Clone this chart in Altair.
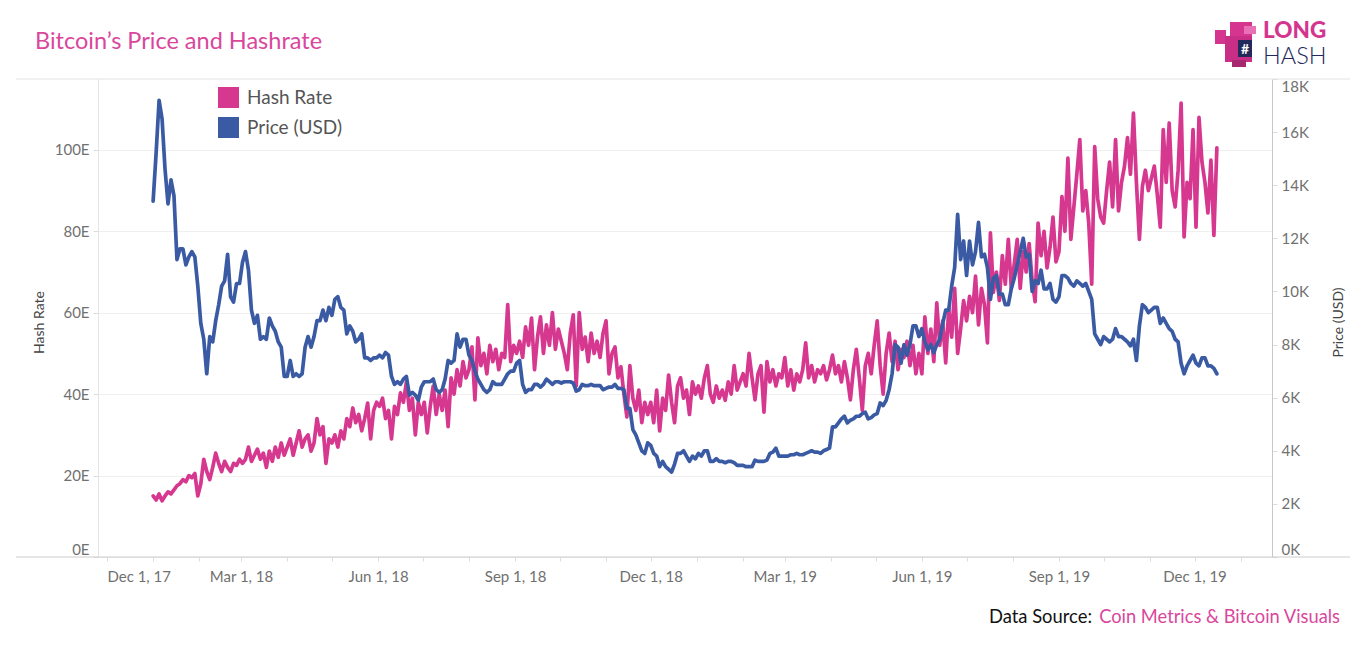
import altair as alt
import pandas as pd

# ---------------- data (2-day samples starting 2018-01-01) ----------------
hash_2018 = [
    15.0, 14.0, 15.5, 13.8, 15.0, 16.0, 15.5, 16.5, 17.5, 18.0, 19.0, 18.5, 20.0, 19.5, 20.5, 15.0,
    18.0, 24.0, 21.0, 19.0, 22.0, 25.5, 23.0, 21.0, 23.5, 22.0, 21.0, 23.0, 22.5, 24.0,
    23.0, 24.0, 27.0, 23.5, 25.0, 26.5, 24.0, 25.5, 22.0, 26.0, 23.5, 27.0, 24.5, 28.0, 25.0,
    27.0, 29.0, 25.0, 28.0, 31.0, 27.0, 29.0, 30.0, 26.0, 28.0, 34.0, 30.0, 32.0, 23.0, 29.0,
    28.0, 30.0, 27.0, 31.0, 29.0, 34.0, 32.0, 36.6, 33.0, 35.0, 31.0, 34.0, 37.8, 29.0, 36.0, 38.0,
    37.0, 39.0, 34.0, 36.0, 29.0, 37.0, 35.0, 40.3, 38.0, 43.0, 36.0, 39.0, 30.0, 38.0, 35.0,
    38.0, 30.5, 37.0, 42.0, 35.0, 40.0, 36.0, 41.0, 32.0, 44.0, 40.0, 46.0, 42.0, 48.0, 44.0,
    46.0, 51.6, 38.6, 53.8, 47.0, 50.0, 45.0, 52.0, 48.0, 51.0, 46.0, 50.0, 49.0, 62.0, 48.0, 52.0,
    50.0, 53.0, 49.0, 56.5, 52.0, 58.7, 46.0, 54.0, 59.0, 50.0, 57.0, 52.0, 60.0, 51.0, 56.0,
    53.0, 50.0, 46.0, 55.0, 59.5, 42.0, 60.0, 51.0, 54.0, 48.0, 55.0, 50.0, 53.0, 49.0, 55.0,
    58.0, 45.0, 50.0, 51.6, 44.0, 46.7, 40.0, 34.4, 47.0, 39.0, 36.0, 41.0, 33.0, 38.0, 35.0,
    38.0, 33.0, 41.0, 31.0, 39.0, 36.0, 44.7, 38.0, 33.0, 42.0, 44.0, 39.0, 41.0, 35.0, 43.0, 40.0,
]
hash_2019 = [
    42.0, 39.0, 44.0, 47.0, 40.0, 38.0, 42.0, 39.0, 41.0, 38.5, 43.0, 40.0, 47.0, 41.0, 43.0,
    45.0, 42.0, 50.0, 44.0, 38.6, 45.0, 47.0, 35.6, 48.0, 43.0, 46.0, 42.0, 45.0, 44.0,
    49.0, 42.0, 46.0, 41.0, 45.0, 43.0, 46.0, 52.6, 44.0, 47.0, 43.0, 46.0, 45.0, 47.0, 43.5, 46.0,
    49.6, 45.0, 47.0, 43.0, 48.0, 44.0, 38.6, 46.0, 51.0, 44.0, 36.0, 47.0, 50.0, 45.0, 52.0,
    58.0, 47.0, 40.0, 50.0, 55.0, 48.0, 53.0, 46.0, 51.0, 49.0, 53.0, 47.0, 52.0, 45.0, 50.0,
    45.0, 59.0, 50.0, 56.0, 48.0, 62.4, 52.0, 58.0, 47.7, 61.0, 54.0, 66.0, 50.0, 56.0, 63.0,
    58.0, 64.0, 60.0, 69.0, 57.0, 66.0, 62.0, 52.6, 79.6, 65.0, 70.0, 63.0, 74.0, 67.0, 78.0, 66.0,
    72.0, 78.0, 66.0, 75.0, 70.0, 77.0, 68.0, 62.7, 82.0, 74.0, 80.0, 71.0, 76.0, 83.5, 72.5,
    75.0, 88.5, 80.0, 98.0, 78.0, 86.0, 94.0, 102.5, 85.0, 90.0, 82.0, 67.0, 100.8, 88.0, 83.5,
    82.0, 90.0, 97.0, 86.0, 102.5, 85.0, 92.0, 96.0, 103.0, 94.0, 109.0, 92.0, 78.0, 91.0, 95.0, 90.0,
    93.0, 96.0, 89.0, 81.0, 105.0, 92.0, 106.6, 90.0, 86.0, 95.0, 111.5, 78.6, 92.0, 88.0, 105.0,
    81.0, 108.0, 97.0, 92.0, 84.5, 97.5, 79.0, 100.5,
]
# price in thousands of USD
price_2018 = [
    13.4, 15.2, 17.2, 16.5, 14.6, 13.3, 14.2, 13.6, 11.2, 11.6, 11.6, 11.0, 11.3, 11.5, 11.3, 10.2,
    8.8, 8.2, 6.9, 8.3, 8.1, 8.9, 9.5, 10.2, 10.4, 11.4, 9.8, 9.6, 10.3, 10.3,
    11.1, 11.5, 10.8, 9.3, 8.8, 9.1, 8.2, 8.3, 8.2, 9.0, 8.7, 8.5, 8.1, 7.9, 6.8,
    6.8, 7.4, 6.8, 6.9, 6.8, 6.9, 7.9, 8.3, 7.9, 8.3, 8.9, 8.9, 9.3, 8.9, 9.4,
    9.1, 9.7, 9.8, 9.4, 9.3, 8.4, 8.7, 8.5, 8.1, 8.2, 8.4, 7.5, 7.5, 7.4, 7.5, 7.5,
    7.6, 7.5, 7.7, 7.6, 6.8, 6.5, 6.6, 6.5, 6.7, 6.8, 6.1, 6.2, 6.1, 5.9, 6.4,
    6.6, 6.6, 6.6, 6.7, 6.3, 6.2, 6.3, 6.7, 7.4, 7.3, 7.4, 8.4, 7.9, 8.2, 8.2,
    7.6, 7.4, 7.0, 6.7, 6.5, 6.3, 6.2, 6.3, 6.6, 6.5, 6.5, 6.5, 6.7, 6.9, 7.0, 7.0,
    7.3, 7.4, 6.5, 6.2, 6.3, 6.3, 6.5, 6.5, 6.4, 6.5, 6.7, 6.6, 6.5, 6.6, 6.6,
    6.55, 6.6, 6.6, 6.6, 6.55, 6.25, 6.3, 6.5, 6.45, 6.45, 6.5, 6.45, 6.45, 6.45, 6.3,
    6.35, 6.4, 6.4, 6.5, 6.35, 6.35, 6.3, 5.6, 5.6, 4.8, 4.6, 4.3, 4.0, 3.9, 4.3,
    4.2, 3.9, 3.8, 3.4, 3.6, 3.4, 3.3, 3.2, 3.5, 3.9, 3.9, 4.0, 3.8, 3.6, 3.8, 3.7,
]
price_2019 = [
    3.9, 3.8, 4.0, 4.0, 3.6, 3.6, 3.7, 3.6, 3.6, 3.55, 3.6, 3.6, 3.55, 3.45, 3.45,
    3.45, 3.4, 3.4, 3.4, 3.65, 3.6, 3.6, 3.6, 3.65, 3.9, 3.95, 4.1, 3.8, 3.8,
    3.8, 3.8, 3.85, 3.85, 3.9, 3.85, 3.85, 3.9, 3.95, 4.0, 3.95, 3.95, 3.9, 4.0, 4.05, 4.1,
    4.9, 4.9, 5.05, 5.2, 5.3, 5.05, 5.15, 5.2, 5.3, 5.3, 5.4, 5.45, 5.2, 5.25, 5.35,
    5.4, 5.8, 5.7, 5.9, 6.3, 6.9, 8.0, 7.9, 7.3, 8.0, 7.6, 8.0, 8.7, 8.7, 8.3,
    8.6, 8.1, 7.8, 8.0, 7.7, 8.0, 8.2, 8.8, 9.3, 9.3, 10.2, 10.9, 12.9, 11.2, 11.9,
    10.6, 11.9, 11.0, 11.5, 12.6, 11.3, 11.4, 10.9, 9.7, 10.5, 10.6, 9.9, 9.9, 9.5, 9.5, 10.1,
    10.5, 11.0, 11.5, 12.0, 11.3, 11.4, 10.0, 10.4, 10.3, 10.8, 10.1, 10.1, 10.3, 9.7, 9.6,
    9.8, 10.6, 10.6, 10.5, 10.3, 10.2, 10.4, 10.3, 10.2, 10.3, 10.0, 9.7, 8.4, 8.2, 8.0,
    8.3, 8.2, 8.1, 8.2, 8.6, 8.3, 8.3, 8.2, 8.1, 7.95, 8.2, 7.4, 8.7, 9.5, 9.4, 9.2,
    9.3, 9.4, 9.4, 8.8, 9.0, 8.8, 8.6, 8.5, 8.2, 8.1, 7.3, 6.9, 7.2, 7.4, 7.6,
    7.3, 7.2, 7.5, 7.5, 7.2, 7.2, 7.1, 6.9,
]
series_names = ["Hash Rate", "Price (USD)"]
hash_ticks = [0, 20, 40, 60, 80, 100]
price_ticks = [0, 2000, 4000, 6000, 8000, 10000, 12000, 14000, 16000, 18000]

hash_vals = hash_2018 + hash_2019
price_vals = [p * 1000 for p in price_2018 + price_2019]
hash_df = pd.DataFrame({
    "date": pd.date_range("2018-01-01", periods=len(hash_vals), freq="2D").strftime("%Y-%m-%d"),
    "hash": hash_vals,
    "series": series_names[0],
})
price_df = pd.DataFrame({
    "date": pd.date_range("2018-01-01", periods=len(price_vals), freq="2D").strftime("%Y-%m-%d"),
    "price": price_vals,
    "series": series_names[1],
})

PINK = "#D6388F"
BLUE = "#3A5BA3"
TITLE_PINK = "#D9479D"
NAVY = "#222a5c"
FONT = "Lato"

W, H = 1174, 478

month_ticks = [alt.DateTime(year=2017, month=12, date=1, utc=True)]
for yr in (2018, 2019):
    for m in range(1, 13):
        month_ticks.append(alt.DateTime(year=yr, month=m, date=1, utc=True))
month_ticks.append(alt.DateTime(year=2020, month=1, date=1, utc=True))

x_scale = alt.Scale(
    type="utc",
    domain=[alt.DateTime(year=2017, month=11, date=25, utc=True),
            alt.DateTime(year=2020, month=1, date=22, utc=True)],
)
x_axis = alt.Axis(
    values=month_ticks,
    labelExpr="(utcmonth(datum.value) % 3 == 2) ? utcFormat(datum.value, '%b %-d, %y') : ''",
    title=None, domain=False, grid=False, tickColor="#dcdcdc", tickSize=4,
    labelPadding=8, labelFlush=10, labelOverlap=False,
    labelFont=FONT, labelFontSize=15, labelColor="#707070",
)


def make_legend(y, fill):
    return alt.Legend(
        orient="none", legendX=120, legendY=y, title=None, direction="vertical",
        symbolType="square", symbolSize=441, symbolStrokeWidth=0, symbolFillColor=fill,
        labelFont=FONT, labelFontSize=19, labelColor="#555555", labelOffset=8,
        padding=0,
    )


hash_line = alt.Chart(hash_df).mark_line(
    strokeWidth=3.7, strokeJoin="round", strokeCap="round"
).encode(
    x=alt.X("date:T", scale=x_scale, axis=x_axis),
    y=alt.Y(
        "hash:Q",
        scale=alt.Scale(domain=[0, 117.4], nice=False, zero=True),
        axis=alt.Axis(
            orient="left", values=hash_ticks, labelExpr="datum.value + 'E'",
            title="Hash Rate", titleAngle=270, titleX=-55, titleY=243,
            titleAlign="center", titleBaseline="alphabetic",
            titleFont=FONT, titleFontSize=14, titleFontWeight="normal", titleColor="#444444",
            grid=True, gridColor="#efefef", domainColor="#e4e4e4",
            tickColor="#dcdcdc", tickSize=5, labelPadding=4, labelFlush=True,
            labelFont=FONT, labelFontSize=15, labelColor="#707070",
        ),
    ),
    color=alt.Color(
        "series:N",
        scale=alt.Scale(domain=[series_names[0]], range=[PINK]),
        legend=make_legend(8, PINK),
    ),
)

price_line = alt.Chart(price_df).mark_line(
    strokeWidth=3.7, strokeJoin="round", strokeCap="round"
).encode(
    x=alt.X("date:T", scale=x_scale, axis=x_axis),
    y=alt.Y(
        "price:Q",
        scale=alt.Scale(domain=[0, 18000], nice=False, zero=True),
        axis=alt.Axis(
            orient="right", values=price_ticks, labelExpr="(datum.value / 1000) + 'K'",
            title="Price (USD)", titleAngle=270, titleX=70, titleY=243,
            titleAlign="center", titleBaseline="alphabetic",
            titleFont=FONT, titleFontSize=14, titleFontWeight="normal", titleColor="#444444",
            grid=False, domainColor="#c8c8c8",
            tickColor="#dcdcdc", tickSize=5, labelPadding=4, labelFlush=True,
            labelFont=FONT, labelFontSize=15, labelColor="#707070",
        ),
    ),
    color=alt.Color(
        "series:N",
        scale=alt.Scale(domain=[series_names[1]], range=[BLUE]),
        legend=make_legend(38, BLUE),
    ),
)

one = pd.DataFrame({"k": [1]})


def txt(s, x, y, size, color, align="left", weight="normal", font=FONT):
    return alt.Chart(one).mark_text(
        text=s, align=align, baseline="alphabetic", font=font,
        fontSize=size, fontWeight=weight, color=color,
    ).encode(x=alt.value(x), y=alt.value(y))


def box(x0, x1, y0, y1, color):
    return alt.Chart(one).mark_rect(color=color).encode(
        x=alt.value(x0), x2=alt.value(x1), y=alt.value(y0), y2=alt.value(y1)
    )


top_line = alt.Chart(one).mark_rule(color="#e2e2e2", strokeWidth=1).encode(
    x=alt.value(-82), x2=alt.value(1252), y=alt.value(0))
bottom_line = alt.Chart(one).mark_rule(color="#cccccc", strokeWidth=1).encode(
    x=alt.value(-82), x2=alt.value(1252), y=alt.value(H))

title = txt("Bitcoin\u2019s Price and Hashrate", -63, -30, 23.5, TITLE_PINK)
logo_long = txt("LONG", 1165, -41, 22.5, "#D4368F", weight=900)
logo_hash = txt("HASH", 1165, -15, 23.5, NAVY, weight=300)
logo_parts = [
    box(1117, 1128, -49, -35, "#D6358F"),
    box(1132, 1154, -57, -42, "#D6358F"),
    box(1146, 1158, -53, -45, "#E870B5"),
    box(1127, 1154, -43, -17, "#C92E86"),
    box(1134, 1148, -19, -12, "#A8286F"),
    box(1140, 1154, -39, -22, NAVY),
    txt("#", 1147, -25, 14, "white", align="center", weight="bold"),
]
src_a = txt("Data Source:", 994, 544, 18.4, "#111111", align="right")
src_b = txt("Coin Metrics & Bitcoin Visuals", 1242, 544, 18.3, TITLE_PINK, align="right")

lines = alt.layer(hash_line, price_line).resolve_scale(y="independent", color="independent")

chart = alt.layer(
    top_line, bottom_line, lines, title, logo_long, logo_hash, *logo_parts, src_a, src_b
).resolve_scale(y="independent", color="independent").properties(
    width=W, height=H,
    autosize=alt.AutoSizeParams(type="none"),
    padding={"left": 90, "top": 71, "right": 86, "bottom": 75},
    background="white",
).configure_view(stroke=None)

chart.save("out.html", embed_options={"renderer": "svg", "actions": False})
